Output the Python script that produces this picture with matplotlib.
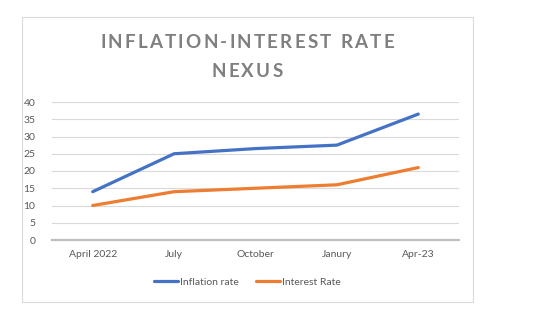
import matplotlib.pyplot as plt
from matplotlib.patches import Rectangle

# Monthly readings, April 2022 to April 2023
months = ['April 2022', 'July', 'October', 'Janury', 'Apr-23']
inflation_rate = [14, 25, 26.5, 27.5, 36.5]
interest_rate = [10, 14, 15, 16, 21]
title_lines = ['INFLATION-INTEREST RATE', 'NEXUS']

plt.rcParams['font.family'] = ['Lato', 'DejaVu Sans']

fig = plt.figure(figsize=(5.5, 3.24), dpi=100)
fig.patch.set_facecolor('white')

# thin frame round the whole chart
fig.patches.append(Rectangle((22 / 550, 1 - 302 / 324), 451 / 550, 285 / 324,
                             transform=fig.transFigure, fill=False,
                             edgecolor='#D9D9D9', linewidth=0.8))

ax = fig.add_axes([52 / 550, 1 - 240 / 324, 407 / 550, 138 / 324])
x = range(len(months))
ax.plot(x, inflation_rate, color='#4472C4', linewidth=2.3, label='Inflation rate',
        solid_capstyle='round', solid_joinstyle='round')
ax.plot(x, interest_rate, color='#ED7D31', linewidth=2.3, label='Interest Rate',
        solid_capstyle='round', solid_joinstyle='round')

ax.set_xlim(-0.5, len(months) - 0.5)
ax.set_ylim(0, 40)
ax.set_yticks(range(0, 41, 5))
ax.set_xticks(list(x))
ax.set_xticklabels(months)
ax.grid(axis='y', color='#D9D9D9', linewidth=0.8)
ax.set_axisbelow(True)
for side in ['top', 'right', 'left']:
    ax.spines[side].set_visible(False)
ax.spines['bottom'].set_color('#BFBFBF')
ax.spines['bottom'].set_linewidth(1.6)
ax.tick_params(axis='both', length=0, labelsize=7.5, colors='#595959')
ax.tick_params(axis='x', pad=7)
ax.tick_params(axis='y', pad=12)

# spaced-out title: letters laid one by one, each line centred
renderer = fig.canvas.get_renderer()
tracking = 2.2  # extra px between letters
for line, yc in zip(title_lines, [42.5, 71.5]):
    pieces = []
    for ch in line:
        t = fig.text(0, 1 - yc / 324, ch, ha='left', va='center', fontsize=13.5,
                     fontweight='bold', color='#7F7F7F')
        w = t.get_window_extent(renderer).width if ch != ' ' else 5.0
        pieces.append((t, w))
    total = sum(w for _, w in pieces) + tracking * (len(pieces) - 1)
    xpos = 247 - total / 2
    for t, w in pieces:
        t.set_x(xpos / 550)
        xpos += w + tracking

ax.legend(loc='center', bbox_to_anchor=(195.5 / 407, -42 / 138), ncol=2, frameon=False,
          fontsize=7.5, labelcolor='#595959', handlelength=2.3, handletextpad=0.2,
          columnspacing=1.6)

fig.savefig('out.png', dpi=100)
